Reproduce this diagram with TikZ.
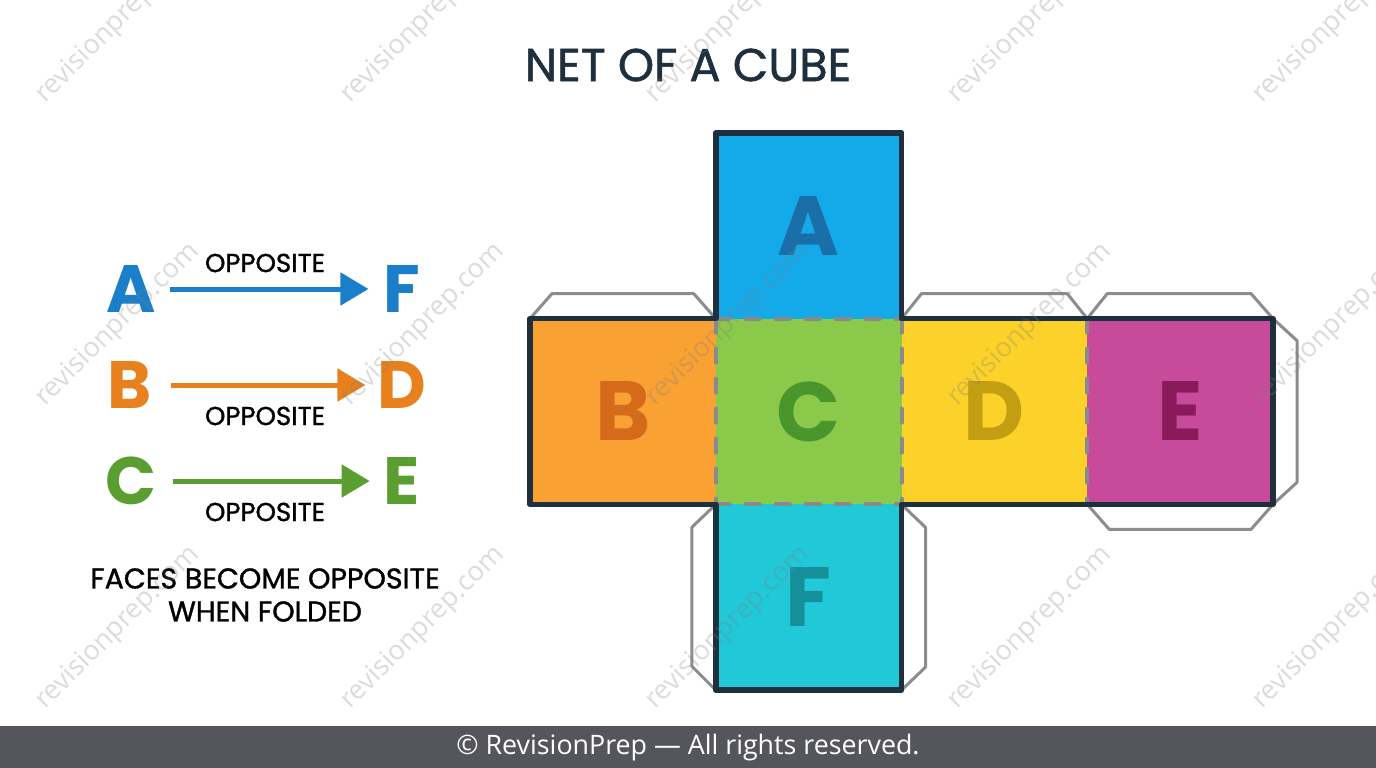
\documentclass[tikz,border=0pt]{standalone}
\usepackage{fontspec}
\setmainfont{Poppins}
\newfontfamily\popmed{Poppins}[FakeBold=1.2]
\newfontfamily\wmfont{Open Sans}
\newfontfamily\footfont{Open Sans}
\usetikzlibrary{arrows.meta}

\definecolor{navy}{HTML}{1E2F3D}
\definecolor{foldgrey}{HTML}{8A8A8A}
\definecolor{tabgrey}{HTML}{8C8C8C}
\definecolor{footbg}{HTML}{55565B}
\definecolor{cA}{HTML}{14AAEA}\definecolor{tA}{HTML}{1A6FA8}
\definecolor{cB}{HTML}{F9A133}\definecolor{tB}{HTML}{D46A1A}
\definecolor{cC}{HTML}{8BC94A}\definecolor{tC}{HTML}{4A962C}
\definecolor{cD}{HTML}{FCD12A}\definecolor{tD}{HTML}{C49E12}
\definecolor{cE}{HTML}{C84A9A}\definecolor{tE}{HTML}{8A1A5A}
\definecolor{cF}{HTML}{20C8D8}\definecolor{tF}{HTML}{15909A}
\definecolor{lBlue}{HTML}{1A7FC8}
\definecolor{lOrange}{HTML}{E8801E}
\definecolor{lGreen}{HTML}{5A9E32}

\begin{document}
\begin{tikzpicture}[x=1pt,y=-1pt,
  face/.style={rectangle, minimum width=185.75pt, minimum height=185.75pt,
    inner sep=0pt, outer sep=0pt, font=\bfseries\fontsize{84}{84}\selectfont},
  outline/.style={draw=navy, line width=5.5pt, line join=round},
  fold/.style={draw=foldgrey, line width=4pt, line cap=round, dash pattern=on 14pt off 16pt},
  tab/.style={draw=tabgrey, line width=3pt, line join=round},
  bigletter/.style={font=\bfseries\fontsize{67}{67}\selectfont, inner sep=0pt},
  opplabel/.style={font=\popmed\fontsize{26}{26}\selectfont, text=black, inner sep=0pt},
  legarrow/.style={line width=5pt, -{Triangle[length=28pt,width=32pt]}},
  wm/.style={font=\wmfont\fontsize{27}{27}\selectfont, text=gray, opacity=0.28, rotate=45}
]
\useasboundingbox (0,0) rectangle (1376,768);
\fill[white] (0,0) rectangle (1376,768);

% title
\node[font=\popmed\fontsize{46}{46}\selectfont, text=navy] (title) at (688,65) {NET OF A CUBE};

% faces
\node[face, fill=cC, text=tC] (C) at (808.625,411.5) {C};
\node[face, fill=cA, text=tA] (A) at (808.625,225.75) {A};
\node[face, fill=cF, text=tF] (F) at (808.625,597.25) {F};
\node[face, fill=cB, text=tB] (B) at (622.875,411.5) {B};
\node[face, fill=cD, text=tD] (D) at (994.375,411.5) {D};
\node[face, fill=cE, text=tE] (E) at (1180.125,411.5) {E};

% tabs
\draw[tab] (B.north west) -- ([shift={(22,-25)}]B.north west) -- ([shift={(-22,-25)}]B.north east) -- (B.north east);
\draw[tab] (D.north west) -- ([shift={(20,-25)}]D.north west) -- ([shift={(-20,-25)}]D.north east) -- (D.north east);
\draw[tab] (E.north west) -- ([shift={(20,-25)}]E.north west) -- ([shift={(-22,-25)}]E.north east) -- (E.north east);
\draw[tab] (E.north east) -- ([shift={(24,22)}]E.north east) -- ([shift={(24,-22)}]E.south east) -- (E.south east);
\draw[tab] (E.south west) -- ([shift={(22,25)}]E.south west) -- ([shift={(-22,25)}]E.south east) -- (E.south east);
\draw[tab] (F.north west) -- ([shift={(-24,23)}]F.north west) -- ([shift={(-24,-24)}]F.south west) -- (F.south west);
\draw[tab] (F.north east) -- ([shift={(24,23)}]F.north east) -- ([shift={(24,-23)}]F.south east) -- (F.south east);

% folds
\draw[fold] (A.south west) -- (A.south east);
\draw[fold] (F.north west) -- (F.north east);
\draw[fold] (C.north west) -- (C.south west);
\draw[fold] (C.north east) -- (C.south east);
\draw[fold] (D.north east) -- (D.south east);

% outline of net
\draw[outline] (A.north west) -- (A.north east) -- (D.north west) -- (E.north east)
  -- (E.south east) -- (D.south west) -- (F.south east) -- (F.south west)
  -- (B.south east) -- (B.south west) -- (B.north west) -- (A.south west) -- cycle;

% legend
\node[bigletter, text=lBlue] (lA) at (131,289) {A};
\node[bigletter, text=lBlue] (lF) at (402,289) {F};
\node[bigletter, text=lOrange] (lB) at (130,385) {B};
\node[bigletter, text=lOrange] (lD) at (402,385) {D};
\node[bigletter, text=lGreen] (lC) at (131,481) {C};
\node[bigletter, text=lGreen] (lE) at (402,481) {E};

\draw[legarrow, draw=lBlue, fill=lBlue] ([xshift=14pt]lA.east) -- ([xshift=-15pt]lF.west);
\draw[legarrow, draw=lOrange, fill=lOrange] ([xshift=19pt]lB.east) -- ([xshift=-12pt]lD.west);
\draw[legarrow, draw=lGreen, fill=lGreen] ([xshift=16pt]lC.east) -- ([xshift=-14pt]lE.west);

\node[opplabel] (o1) at (265,263) {OPPOSITE};
\node[opplabel] (o2) at (265,416) {OPPOSITE};
\node[opplabel] (o3) at (265,512) {OPPOSITE};

\node[font=\popmed\fontsize{28.5}{33}\selectfont, text=black, align=center, inner sep=0pt] (note) at (265,595)
  {FACES BECOME OPPOSITE\\WHEN FOLDED};

% watermarks
\foreach \yy in {22,325,628}{
  \foreach \xx in {118,423,728,1030,1335}{
    \node[wm] at (\xx,\yy) {revisionprep.com};
  }
}

% footer
\fill[footbg] (0,726) rectangle (1376,768);
\node[font=\footfont\fontsize{26.8}{26.8}\selectfont, text=white] (foot) at (688,748) {© RevisionPrep — All rights reserved.};
\end{tikzpicture}
\end{document}
